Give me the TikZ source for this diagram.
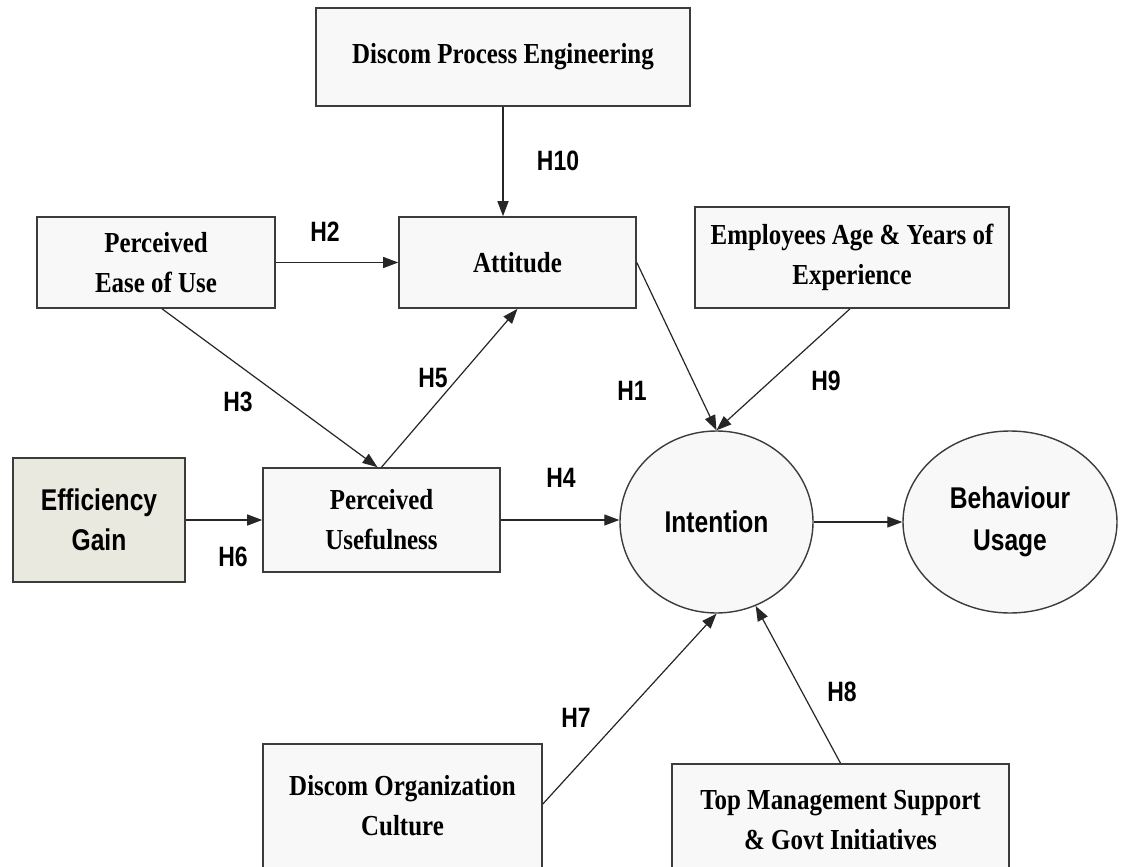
\documentclass[tikz,border=0pt]{standalone}
\usepackage{fontspec}
\setmainfont{Liberation Serif}[FakeStretch=0.86]
\newfontfamily\hsans[FakeStretch=0.82]{Liberation Sans}
\usetikzlibrary{arrows.meta,shapes.geometric,calc}
\definecolor{boxfill}{HTML}{F8F8F8}
\definecolor{boxline}{HTML}{3C3C3C}
\definecolor{egfill}{HTML}{E9E9DF}
\begin{document}
\begin{tikzpicture}[x=1pt,y=-1pt,
  box/.style={rectangle, draw=boxline, line width=1.6pt, fill=boxfill, inner sep=0pt, align=center,
    font=\bfseries\fontsize{29}{40}\selectfont},
  sbox/.style={box, font=\hsans\bfseries\fontsize{30}{40}\selectfont},
  oval/.style={ellipse, draw=boxline, line width=1.4pt, fill=boxfill, inner sep=0pt, align=center,
    font=\hsans\bfseries\fontsize{30}{42}\selectfont},
  arr/.style={draw=black!85, line width=1.2pt, -{Triangle[length=15pt,width=11pt]}},
  hlab/.style={font=\hsans\bfseries\fontsize{28}{30}\selectfont, inner sep=0pt}]
\useasboundingbox (0,0) rectangle (1132,867);
\clip (0,0) rectangle (1132,867);
\fill[white] (0,0) rectangle (1132,867);
% nodes
\node[box, minimum width=374pt, minimum height=98pt] (dpe) at (503,57) {Discom Process Engineering};
\node[box, minimum width=238pt, minimum height=91pt] (peou) at (156,262.5) {Perceived\\Ease of Use};
\node[box, minimum width=237pt, minimum height=91pt] (att) at (517.5,262.5) {Attitude};
\node[box, minimum width=314pt, minimum height=101pt] (emp) at (852,257.5) {Employees Age \& Years of\\Experience};
\node[sbox, fill=egfill, minimum width=172pt, minimum height=124pt] (eg) at (99,520) {Efficiency\\Gain};
\node[box, minimum width=237pt, minimum height=104pt] (pu) at (381.5,520) {Perceived\\Usefulness};
\node[oval, minimum width=193pt, minimum height=182pt] (int) at (716.5,522) {Intention};
\node[oval, minimum width=214pt, minimum height=182pt] (beh) at (1010,522) {Behaviour\\Usage};
\node[box, minimum width=279pt, minimum height=124pt] (doc) at (402.5,806) {Discom Organization\\Culture};
\node[box, minimum width=337pt, minimum height=112pt] (tms) at (840.5,820) {Top Management Support\\\& Govt Initiatives};
% connectors
\draw[arr] (dpe.south) -- (dpe.south |- att.north);
\draw[arr] (peou.east) -- (att.west);
\draw[arr] ($(peou.south)+(6,0)$) -- ($(pu.north)+(-4,0)$);
\draw[arr] (pu.north) -- (att.south);
\draw[arr] (att.east) -- (int.north);
\draw[arr] ($(emp.south)+(-2,0)$) -- (int.north);
\draw[arr] (eg.east) -- (pu.west);
\draw[arr] (pu.east) -- (pu.east -| int.west);
\draw[arr] (int.east) -- (beh.west);
\draw[arr] ($(doc.east)+(0,-2)$) -- (int.south);
\draw[arr] (tms.north) -- (int.-65);
% labels
\node[hlab] (h10) at (558,161) {H10};
\node[hlab] (h2) at (325,232) {H2};
\node[hlab] (h3) at (238,402) {H3};
\node[hlab] (h5) at (433,378) {H5};
\node[hlab] (h1) at (632,391) {H1};
\node[hlab] (h9) at (826,381) {H9};
\node[hlab] (h6) at (233,557) {H6};
\node[hlab] (h4) at (561,478) {H4};
\node[hlab] (h7) at (576,718) {H7};
\node[hlab] (h8) at (842,692) {H8};
\end{tikzpicture}
\end{document}
